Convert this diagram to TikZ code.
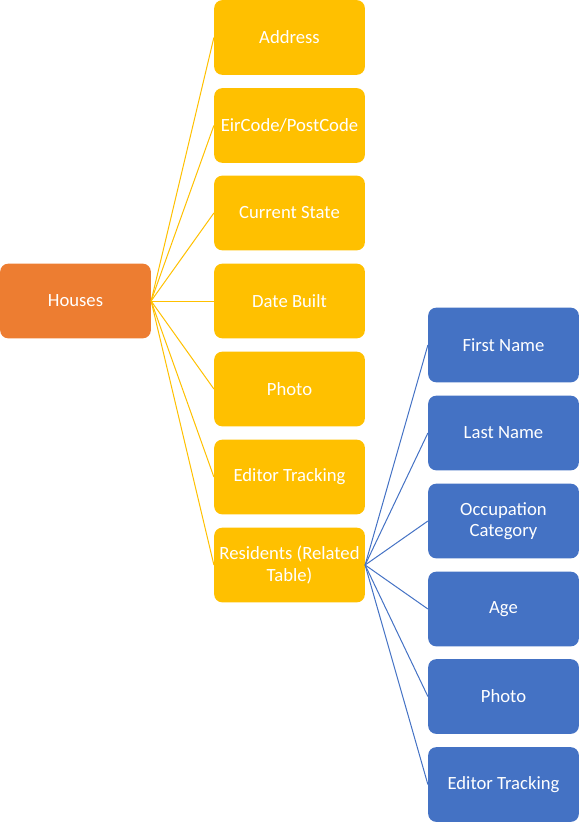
\documentclass[tikz,border=0pt]{standalone}
\usepackage{fontspec}
\setmainfont{Carlito}
\usepackage{tikz}

\definecolor{houseorange}{HTML}{ED7D31}
\definecolor{fieldyellow}{HTML}{FFC000}
\definecolor{residentblue}{HTML}{4472C4}

\tikzset{
  box/.style={rounded corners=6pt, minimum width=113pt, minimum height=56pt,
    inner sep=0pt, align=center, text=white, font=\fontsize{14pt}{16pt}\selectfont},
  housebox/.style={box, fill=houseorange},
  fieldbox/.style={box, fill=fieldyellow},
  residentbox/.style={box, fill=residentblue},
}

\begin{document}
\begin{tikzpicture}[x=0.75pt,y=-0.75pt]
\useasboundingbox (0,0) rectangle (579,823);

\node[housebox] (houses) at (75.5,301) {Houses};

\node[fieldbox] (address) at (289.5,37.5) {Address};
\node[fieldbox] (eircode) at (289.5,125.5) {EirCode/PostCode};
\node[fieldbox] (state) at (289.5,213) {Current State};
\node[fieldbox] (built) at (289.5,301) {Date Built};
\node[fieldbox] (photo) at (289.5,389) {Photo};
\node[fieldbox] (editor) at (289.5,477) {Editor Tracking};
\node[fieldbox] (residents) at (289.5,565) {Residents (Related\\Table)};

\node[residentbox] (first) at (503.5,345) {First Name};
\node[residentbox] (last) at (503.5,433) {Last Name};
\node[residentbox] (occupation) at (503.5,521) {Occupation\\Category};
\node[residentbox] (age) at (503.5,609) {Age};
\node[residentbox] (rphoto) at (503.5,696.5) {Photo};
\node[residentbox] (reditor) at (503.5,784.5) {Editor Tracking};

% houses to its fields
\foreach \f in {address,eircode,state,built,photo,editor,residents}
  \draw[fieldyellow, line width=0.75pt] (houses.east) -- (\f.west);

% residents to its fields
\foreach \r in {first,last,occupation,age,rphoto,reditor}
  \draw[residentblue, line width=0.75pt] (residents.east) -- (\r.west);
\end{tikzpicture}
\end{document}
